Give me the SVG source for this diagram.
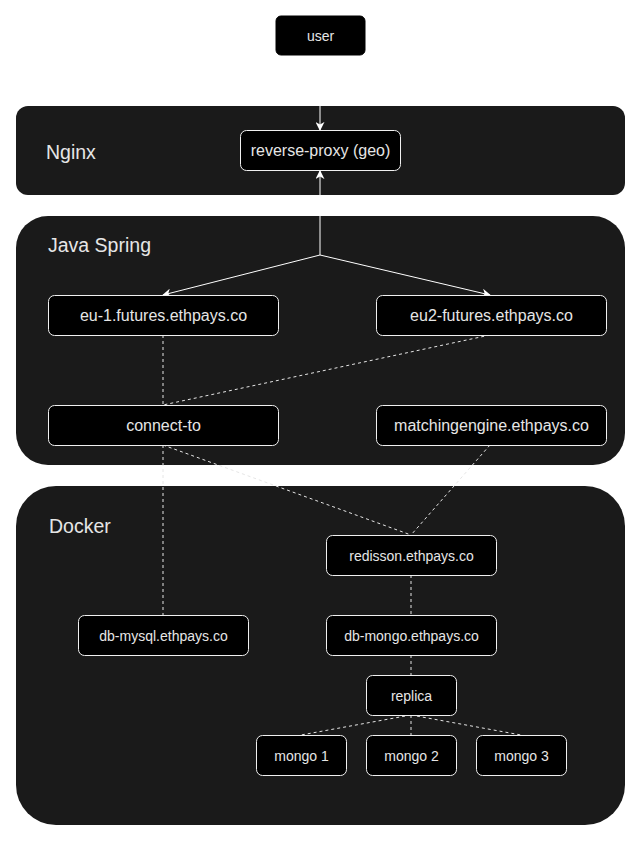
<svg xmlns="http://www.w3.org/2000/svg" width="641" height="841" viewBox="0 0 641 841">
<defs>
<style>
.bg{fill:#ffffff}
.grp{fill:#1a1a1a}
.node{fill:#000000;stroke:#f0f0f0;stroke-width:1}
.unode{fill:#000000;stroke:#000000;stroke-width:1}
.t16{font-family:"Liberation Sans",Arial,Helvetica,sans-serif;font-size:16px;fill:#e6e6e6;text-anchor:middle}
.t14{font-family:"Liberation Sans",Arial,Helvetica,sans-serif;font-size:14px;fill:#e6e6e6;text-anchor:middle}
.lbl{font-family:"Liberation Sans",Arial,Helvetica,sans-serif;font-size:19.5px;fill:#e6e6e6}
.solid{fill:none;stroke:#ffffff;stroke-width:1}
.dash{fill:none;stroke:#e6e6e6;stroke-width:1;stroke-dasharray:3 3}
</style>
<marker id="arr" viewBox="0 0 10 10" refX="9" refY="5" markerWidth="9" markerHeight="9" markerUnits="userSpaceOnUse" orient="auto">
<path d="M0,0 L10,5 L0,10 L3,5 Z" fill="#ffffff"/>
</marker>
</defs>
<rect class="bg" x="0" y="0" width="641" height="841"/>

<g id="container-nginx">
<rect class="grp" x="16" y="106" width="609" height="89" rx="12" ry="12"/>
<text class="lbl" x="46" y="159">Nginx</text>
</g>
<g id="container-java-spring">
<rect class="grp" x="16" y="216" width="609" height="249" rx="32" ry="32"/>
<text class="lbl" x="48" y="252">Java Spring</text>
</g>
<g id="container-docker">
<rect class="grp" x="16" y="486" width="609" height="339" rx="40" ry="40"/>
<text class="lbl" x="49" y="533">Docker</text>
</g>

<g id="connectors">
<line class="solid" x1="320" y1="55" x2="320" y2="130" marker-end="url(#arr)"/>
<line class="solid" x1="320" y1="255" x2="320" y2="171" marker-end="url(#arr)"/>
<line class="solid" x1="320" y1="255" x2="163" y2="295" marker-end="url(#arr)"/>
<line class="solid" x1="320" y1="255" x2="490" y2="295" marker-end="url(#arr)"/>
<line class="dash" x1="163" y1="335" x2="163" y2="405"/>
<line class="dash" x1="490" y1="335" x2="163" y2="405"/>
<line class="dash" x1="163" y1="445" x2="163" y2="615"/>
<line class="dash" x1="163" y1="445" x2="411" y2="535"/>
<line class="dash" x1="490" y1="445" x2="411" y2="535"/>
<line class="dash" x1="411" y1="575" x2="411" y2="615"/>
<line class="dash" x1="411" y1="655" x2="411" y2="675"/>
<line class="dash" x1="411" y1="715" x2="301" y2="735"/>
<line class="dash" x1="411" y1="715" x2="411" y2="735"/>
<line class="dash" x1="411" y1="715" x2="521" y2="735"/>
</g>

<g id="node-user">
<rect class="unode" x="276" y="16" width="89" height="39" rx="5" ry="5"/>
<text class="t14" x="320.5" y="41">user</text>
</g>
<g id="node-reverse-proxy">
<rect class="node" x="240.5" y="130.5" width="160" height="40" rx="6" ry="6"/>
<text class="t16" x="320.5" y="156">reverse-proxy (geo)</text>
</g>
<g id="node-eu1">
<rect class="node" x="48.5" y="295.5" width="230" height="40" rx="6" ry="6"/>
<text class="t16" x="163.5" y="321">eu-1.futures.ethpays.co</text>
</g>
<g id="node-eu2">
<rect class="node" x="376.5" y="295.5" width="230" height="40" rx="6" ry="6"/>
<text class="t16" x="491.5" y="321">eu2-futures.ethpays.co</text>
</g>
<g id="node-connect-to">
<rect class="node" x="48.5" y="405.5" width="230" height="40" rx="6" ry="6"/>
<text class="t16" x="163.5" y="431">connect-to</text>
</g>
<g id="node-matchingengine">
<rect class="node" x="376.5" y="405.5" width="230" height="40" rx="6" ry="6"/>
<text class="t16" x="491.5" y="431">matchingengine.ethpays.co</text>
</g>
<g id="node-redisson">
<rect class="node" x="326.5" y="535.5" width="170" height="40" rx="6" ry="6"/>
<text class="t14" x="411.5" y="560.5">redisson.ethpays.co</text>
</g>
<g id="node-db-mysql">
<rect class="node" x="78.5" y="615.5" width="170" height="40" rx="6" ry="6"/>
<text class="t14" x="163.5" y="640.5">db-mysql.ethpays.co</text>
</g>
<g id="node-db-mongo">
<rect class="node" x="326.5" y="615.5" width="170" height="40" rx="6" ry="6"/>
<text class="t14" x="411.5" y="640.5">db-mongo.ethpays.co</text>
</g>
<g id="node-replica">
<rect class="node" x="366.5" y="675.5" width="90" height="40" rx="6" ry="6"/>
<text class="t14" x="411.5" y="700.5">replica</text>
</g>
<g id="node-mongo1">
<rect class="node" x="256.5" y="735.5" width="90" height="40" rx="6" ry="6"/>
<text class="t14" x="301.5" y="760.5">mongo 1</text>
</g>
<g id="node-mongo2">
<rect class="node" x="366.5" y="735.5" width="90" height="40" rx="6" ry="6"/>
<text class="t14" x="411.5" y="760.5">mongo 2</text>
</g>
<g id="node-mongo3">
<rect class="node" x="476.5" y="735.5" width="90" height="40" rx="6" ry="6"/>
<text class="t14" x="521.5" y="760.5">mongo 3</text>
</g>
</svg>
